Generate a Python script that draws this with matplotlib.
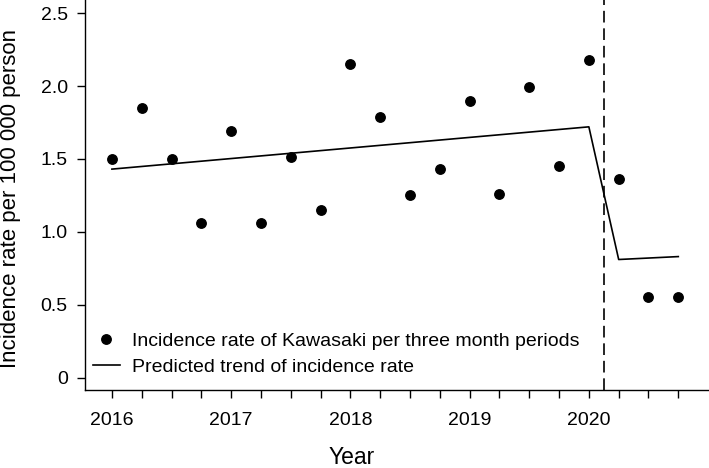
import matplotlib.pyplot as plt

# quarterly periods, index 0 = Q1 2016
quarters = list(range(20))
incidence = [1.50, 1.85, 1.50, 1.06, 1.69, 1.06, 1.51, 1.15, 2.15, 1.79,
             1.25, 1.43, 1.90, 1.26, 1.99, 1.45, 2.18, 1.36, 0.55, 0.55]

trend_x = [0, 16, 17, 19]
trend_y = [1.43, 1.72, 0.81, 0.83]

intervention = 16.5

year_ticks = [0, 4, 8, 12, 16]
year_labels = ['2016', '2017', '2018', '2019', '2020']

plt.rcParams['font.family'] = ['Liberation Sans', 'DejaVu Sans']

fig = plt.figure(figsize=(7.09, 4.68), dpi=100)
ax = fig.add_axes([0.12, 0.1667, 0.88, 0.8333])

ax.plot(quarters, incidence, 'o', color='black', markersize=6.8,
        label='Incidence rate of Kawasaki per three month periods')
ax.plot(trend_x, trend_y, '-', color='black', linewidth=1.2,
        label='Predicted trend of incidence rate')
ax.axvline(intervention, color='black', linewidth=1.2, dashes=(7, 3.5))

ax.set_xlim(-0.9, 20.03)
ax.set_ylim(-0.085, 2.59)

ax.set_xticks(quarters)
ax.set_xticklabels([year_labels[year_ticks.index(q)] if q in year_ticks else '' for q in quarters])
ax.set_yticks([0, 0.5, 1.0, 1.5, 2.0, 2.5])
ax.set_yticklabels(['0', '0.5', '1.0', '1.5', '2.0', '2.5'])

ax.tick_params(axis='both', direction='out', length=6, width=1, labelsize=14)
ax.tick_params(axis='x', pad=9.5)
ax.tick_params(axis='y', pad=6.5)
for side in ['top', 'right']:
    ax.spines[side].set_visible(False)
for side in ['left', 'bottom']:
    ax.spines[side].set_linewidth(1)

ax.set_xlabel('Year', fontsize=16.5)
ax.xaxis.set_label_coords(0.428, -0.143)
ax.set_ylabel('Incidence rate per 100 000 person', fontsize=16)
ax.yaxis.set_label_coords(-0.103, 0.49)

ax.legend(loc='lower left', bbox_to_anchor=(0.0123, 0.036), frameon=False,
          fontsize=14, handlelength=1.4, handletextpad=0.6,
          labelspacing=0.45, borderpad=0, borderaxespad=0, numpoints=1)

fig.savefig('out.png', dpi=100)
